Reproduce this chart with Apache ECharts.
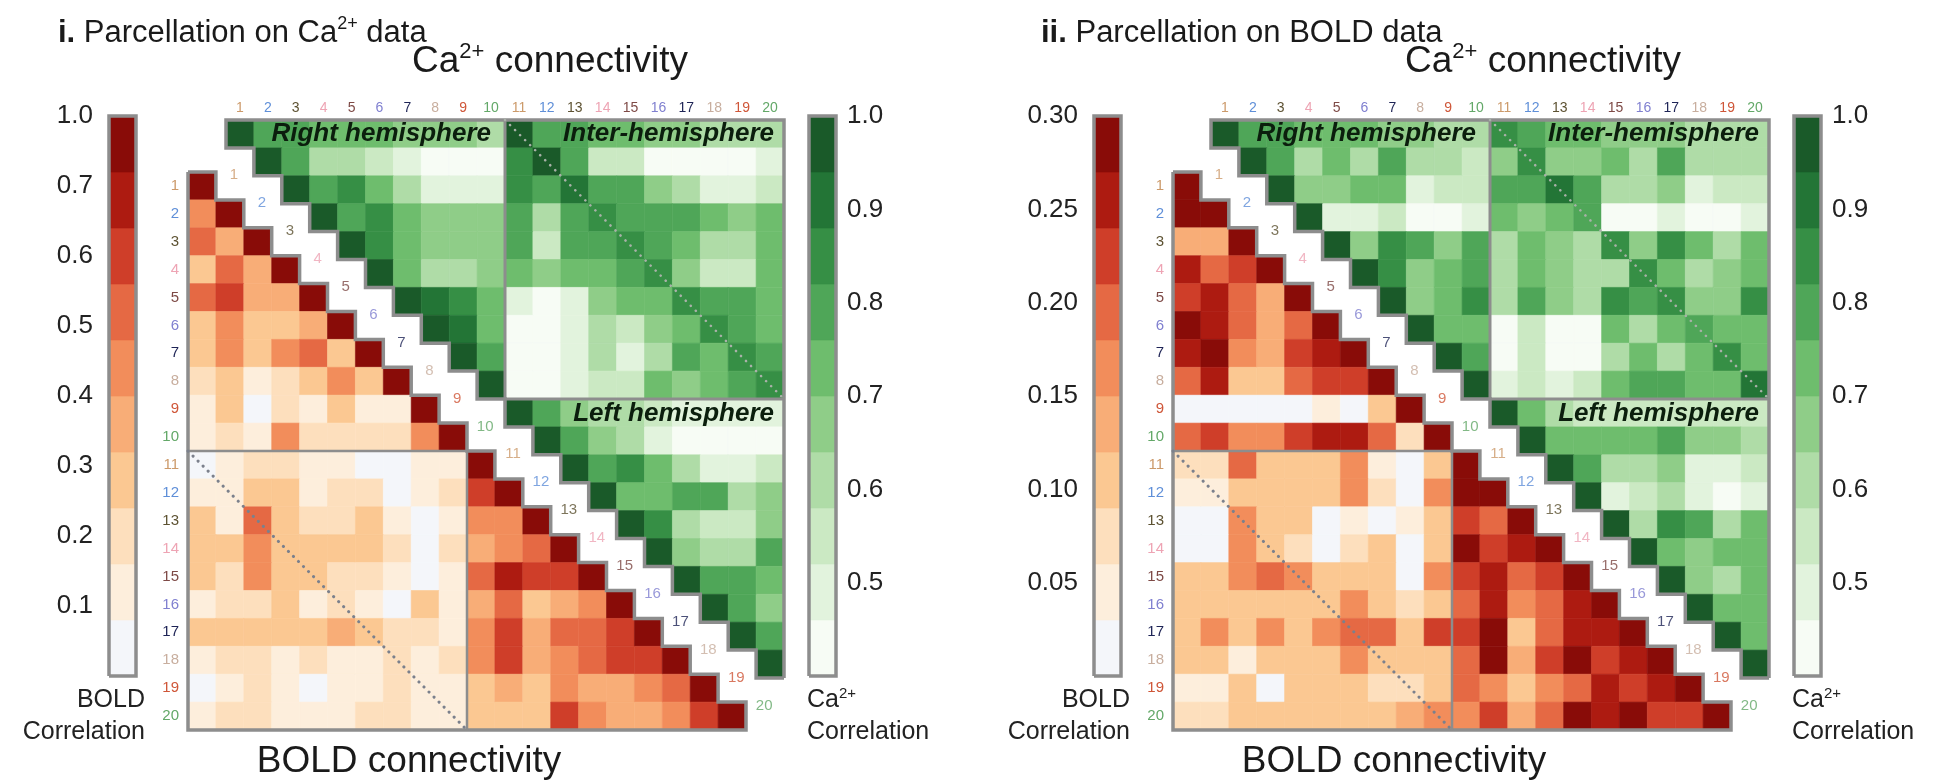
<!DOCTYPE html>
<html>
<head>
<meta charset="utf-8">
<script src="https://cdn.jsdelivr.net/npm/echarts@6/dist/echarts.min.js"></script>
<style>
html, body { margin: 0; padding: 0; background: #ffffff; }
#chart { width: 1939px; height: 783px; }
</style>
</head>
<body>
<div id="chart"></div>
<script>
// ---------- region labels ----------
const regionLabels = ['1','2','3','4','5','6','7','8','9','10','11','12','13','14','15','16','17','18','19','20'];
const regionColors = ['#cc9a6a','#5f8fd8','#5d5232','#eea4b4','#7e4a46','#8080d0','#1e2456','#c8ae9e','#cf5638','#63a868'];

// ---------- colour steps ----------
const greenPalette = ['#f7fcf5','#e2f3dd','#cbe9c3','#afdca7','#8fcd88','#6ebd6d','#4fa658','#368f45','#237536','#1a5a29'];
const redPalette   = ['#f4f6fa','#fdeedc','#fddfbd','#fbc892','#f8ad77','#f28d5b','#e56944','#cf3e29','#ad1b11','#890c08'];
const greenEdges   = [0.40, 0.46, 0.52, 0.58, 0.64, 0.70, 0.76, 0.82, 0.88, 0.94, 1.00];
const boldEdgesI   = [0.00, 0.08, 0.16, 0.24, 0.32, 0.40, 0.48, 0.56, 0.64, 0.76, 1.00];
const boldEdgesII  = [0.00, 0.03, 0.06, 0.09, 0.12, 0.15, 0.18, 0.21, 0.24, 0.27, 0.30];

// ---------- colorbar tick labels ----------
const boldTickLabelsI  = ['', '0.1', '0.2', '0.3', '0.4', '0.5', '0.6', '0.7', '1.0'];
const boldTickLabelsII = ['', '0.05', '0.10', '0.15', '0.20', '0.25', '0.30'];
const caTickLabels     = ['', '0.5', '0.6', '0.7', '0.8', '0.9', '1.0'];

// ---------- Ca2+ correlation, upper triangle (row r holds columns r..20) ----------
const caGreenI = [
  [1.00,.79,.79,.73,.73,.73,.67,.67,.67,.61,.97,.79,.79,.73,.73,.67,.67,.61,.61,.61],
  [1.00,.79,.61,.61,.55,.49,.43,.43,.43,.85,.97,.79,.55,.55,.43,.43,.43,.43,.49],
  [1.00,.79,.85,.73,.61,.49,.49,.49,.85,.79,.91,.79,.79,.67,.61,.49,.49,.55],
  [1.00,.79,.85,.73,.67,.67,.67,.79,.61,.79,.85,.79,.79,.79,.73,.67,.73],
  [1.00,.85,.73,.67,.67,.67,.79,.55,.79,.79,.85,.79,.73,.61,.61,.73],
  [1.00,.73,.61,.61,.67,.73,.67,.73,.73,.79,.85,.67,.55,.55,.73],
  [1.00,.91,.85,.73,.49,.43,.49,.67,.73,.73,.85,.79,.79,.73],
  [1.00,.91,.73,.43,.43,.49,.61,.55,.67,.73,.85,.79,.73],
  [1.00,.79,.43,.43,.49,.61,.49,.61,.79,.73,.85,.79],
  [1.00,.43,.43,.49,.55,.55,.73,.67,.73,.79,.85],
  [1.00,.79,.67,.61,.61,.55,.49,.49,.49,.49],
  [1.00,.79,.67,.61,.49,.43,.43,.43,.43],
  [1.00,.79,.85,.73,.61,.49,.49,.55],
  [1.00,.73,.73,.79,.79,.61,.67],
  [1.00,.85,.61,.55,.55,.67],
  [1.00,.67,.61,.61,.79],
  [1.00,.79,.79,.73],
  [1.00,.79,.67],
  [1.00,.79],
  [1.00]
];
const caGreenII = [
  [1.00,.79,.79,.73,.73,.73,.67,.67,.61,.61,.85,.79,.73,.73,.67,.67,.67,.61,.61,.61],
  [1.00,.79,.61,.73,.61,.79,.61,.61,.55,.67,.85,.67,.67,.73,.61,.79,.61,.61,.61],
  [1.00,.67,.67,.73,.73,.49,.55,.55,.79,.79,.91,.79,.61,.61,.67,.49,.55,.55],
  [1.00,.49,.49,.55,.43,.43,.49,.73,.67,.73,.79,.43,.43,.49,.43,.43,.49],
  [1.00,.67,.85,.79,.67,.79,.61,.73,.67,.61,.85,.67,.85,.73,.61,.73],
  [1.00,.85,.67,.73,.79,.61,.73,.67,.61,.61,.85,.73,.61,.67,.73],
  [1.00,.67,.73,.85,.61,.79,.67,.61,.85,.79,.85,.67,.67,.85],
  [1.00,.73,.73,.43,.55,.43,.43,.73,.61,.73,.79,.73,.73],
  [1.00,.79,.43,.55,.43,.43,.61,.73,.61,.73,.85,.73],
  [1.00,.49,.55,.49,.55,.73,.79,.79,.73,.73,.91],
  [1.00,.73,.61,.55,.55,.55,.55,.55,.55,.55],
  [1.00,.73,.73,.73,.73,.79,.67,.67,.61],
  [1.00,.79,.61,.61,.67,.49,.49,.55],
  [1.00,.49,.55,.61,.49,.43,.49],
  [1.00,.61,.85,.79,.61,.73],
  [1.00,.73,.67,.73,.73],
  [1.00,.67,.61,.73],
  [1.00,.73,.73],
  [1.00,.73],
  [1.00]
];

// ---------- BOLD correlation, lower triangle (row r holds columns 1..r) ----------
const boldRedI = [
  [1.00],
  [.44,1.00],
  [.52,.36,1.00],
  [.28,.52,.36,1.00],
  [.52,.60,.36,.36,1.00],
  [.28,.44,.28,.28,.36,1.00],
  [.28,.44,.28,.44,.52,.28,1.00],
  [.20,.28,.12,.20,.28,.44,.28,1.00],
  [.12,.28,.04,.20,.12,.28,.12,.12,1.00],
  [.12,.20,.12,.44,.20,.20,.20,.20,.44,1.00],
  [.04,.12,.20,.20,.12,.12,.04,.04,.12,.12,1.00],
  [.12,.12,.28,.28,.12,.20,.20,.04,.12,.20,.60,1.00],
  [.28,.12,.52,.28,.20,.20,.28,.12,.04,.12,.44,.44,1.00],
  [.28,.28,.44,.28,.28,.28,.28,.20,.04,.20,.36,.44,.52,1.00],
  [.28,.20,.44,.28,.28,.20,.20,.12,.04,.12,.52,.70,.60,.60,1.00],
  [.12,.20,.20,.28,.12,.20,.12,.04,.28,.12,.36,.52,.28,.36,.44,1.00],
  [.28,.28,.28,.28,.28,.36,.28,.20,.20,.12,.44,.60,.36,.52,.52,.60,1.00],
  [.12,.20,.20,.12,.20,.12,.12,.20,.12,.20,.44,.60,.36,.44,.52,.60,.60,1.00],
  [.04,.12,.20,.12,.04,.12,.12,.20,.12,.12,.28,.36,.28,.44,.36,.36,.44,.52,1.00],
  [.12,.20,.20,.12,.12,.12,.20,.20,.12,.12,.28,.28,.28,.60,.44,.36,.36,.44,.60,1.00]
];
const boldRedII = [
  [1.00],
  [.28,1.00],
  [.13,.13,1.00],
  [.25,.19,.22,1.00],
  [.22,.25,.19,.13,1.00],
  [.28,.25,.19,.13,.19,1.00],
  [.25,.28,.16,.13,.22,.25,1.00],
  [.19,.25,.10,.10,.19,.22,.22,1.00],
  [.01,.01,.01,.01,.01,.04,.01,.10,1.00],
  [.19,.22,.16,.16,.22,.25,.25,.19,.07,1.00],
  [.07,.07,.19,.10,.10,.10,.16,.04,.01,.10,1.00],
  [.04,.04,.10,.10,.10,.10,.16,.07,.01,.16,.28,1.00],
  [.01,.01,.16,.10,.10,.01,.04,.01,.04,.10,.22,.19,1.00],
  [.01,.01,.16,.10,.07,.01,.07,.10,.01,.10,.28,.22,.25,1.00],
  [.10,.10,.16,.19,.16,.10,.10,.10,.01,.16,.22,.25,.19,.22,1.00],
  [.10,.10,.10,.10,.10,.10,.16,.10,.07,.10,.19,.25,.16,.19,.25,1.00],
  [.10,.16,.10,.16,.10,.16,.19,.19,.10,.22,.22,.28,.10,.19,.25,.25,1.00],
  [.10,.10,.04,.10,.10,.10,.16,.10,.10,.10,.19,.28,.13,.22,.28,.22,.25,1.00],
  [.04,.04,.10,.01,.10,.10,.10,.07,.07,.10,.19,.16,.10,.16,.19,.25,.22,.25,1.00],
  [.07,.07,.10,.10,.10,.10,.10,.10,.13,.16,.16,.22,.13,.19,.28,.25,.28,.22,.22,1.00]
];

// ---------- drawing ----------
const FONT = "'Liberation Sans', Arial, Helvetica, sans-serif";
const GRAY = '#8d8d8d';
const N = 20;

// position on the panel-i BOLD colorbar (0.0-0.7 linear, last step 0.7-1.0)
function boldPosI(v) { return v <= 0.7 ? v * 10 : 7 + (v - 0.7) / 0.3; }
function identity(v) { return v; }

const panels = [
  {
    dx: 0,
    green: caGreenI, red: boldRedI, boldEdges: boldEdgesI, boldPos: boldPosI,
    boldAxis: { min: 0, max: 8, interval: 1, labels: boldTickLabelsI },
    title: '{b|i.}{n| Parcellation on Ca}{s|2+}{n| data}', titleX: 58,
    headerX: 550, footerX: 409
  },
  {
    dx: 985,
    green: caGreenII, red: boldRedII, boldEdges: boldEdgesII, boldPos: identity,
    boldAxis: { min: 0, max: 0.30, interval: 0.05, labels: boldTickLabelsII },
    title: '{b|ii.}{n| Parcellation on BOLD data}', titleX: 1041,
    headerX: 1543, footerX: 1394
  }
];

const grids = [], xAxes = [], yAxes = [], series = [], visualMaps = [], graphics = [];

function piecesFrom(edges, palette) {
  return palette.map((color, i) => {
    const p = { color: color };
    if (i > 0) p.gte = edges[i];
    if (i < palette.length - 1) p.lt = edges[i + 1];
    return p;
  });
}

function renderCell(params, api) {
  const c = api.value(0), r = api.value(1);
  const a = api.coord([c, r]);
  const b = api.coord([c + 1, r + 1]);
  const color = api.visual('color');
  return {
    type: 'rect',
    shape: { x: a[0], y: a[1], width: b[0] - a[0], height: b[1] - a[1] },
    style: { fill: color, stroke: color, lineWidth: 0.6 }
  };
}

function barRenderer(palette) {
  return function (params, api) {
    const lo = api.value(0), hi = api.value(1), k = api.value(2);
    const a = api.coord([0, hi]);
    const b = api.coord([1, lo]);
    return {
      type: 'rect',
      shape: { x: a[0], y: a[1], width: b[0] - a[0], height: b[1] - a[1] },
      style: { fill: palette[k], stroke: palette[k], lineWidth: 0.6 }
    };
  };
}

function addLine(xi, yi, pts, lineStyle, z) {
  series.push({
    type: 'line', xAxisIndex: xi, yAxisIndex: yi, data: pts,
    symbol: 'none', clip: false, silent: true, z: z || 5,
    lineStyle: lineStyle
  });
}

function hiddenValueAxis(gridIndex, min, max, inverse) {
  return { gridIndex: gridIndex, type: 'value', min: min, max: max, inverse: !!inverse, show: false };
}

function addText(x, y, text, rich, align) {
  graphics.push({
    type: 'text', x: x, y: y, z: 100,
    style: {
      text: text, rich: rich,
      align: align, textAlign: align,
      verticalAlign: 'middle', textVerticalAlign: 'middle'
    }
  });
}

function addPanel(p) {
  const gi = grids.length;
  grids.push({ left: p.dx + 226, top: 120, width: 558, height: 558 });   // Ca2+ matrix
  grids.push({ left: p.dx + 188, top: 172, width: 558, height: 558 });   // BOLD matrix
  grids.push({ left: p.dx + 109, top: 116, width: 27, height: 560 });    // BOLD colorbar
  grids.push({ left: p.dx + 809, top: 116, width: 27, height: 560 });    // Ca2+ colorbar

  // --- Ca2+ matrix axes ---
  const gx = xAxes.length; xAxes.push(hiddenValueAxis(gi, 0, N, false));
  xAxes.push({
    gridIndex: gi, type: 'category', data: regionLabels, position: 'top',
    axisLine: { show: false }, axisTick: { show: false }, splitLine: { show: false },
    axisLabel: { interval: 0, margin: 5, fontSize: 14, fontFamily: FONT,
      color: (v, i) => regionColors[i % 10] }
  });
  const gy = yAxes.length; yAxes.push(hiddenValueAxis(gi, 0, N, true));

  // --- BOLD matrix axes ---
  const rx = xAxes.length; xAxes.push(hiddenValueAxis(gi + 1, 0, N, false));
  const ry = yAxes.length; yAxes.push(hiddenValueAxis(gi + 1, 0, N, true));
  yAxes.push({
    gridIndex: gi + 1, type: 'category', data: regionLabels, inverse: true, position: 'left',
    axisLine: { show: false }, axisTick: { show: false }, splitLine: { show: false },
    axisLabel: { interval: 0, margin: 9, fontSize: 15, fontFamily: FONT,
      color: (v, i) => regionColors[i % 10] }
  });

  // --- BOLD colorbar axes ---
  const bx = xAxes.length; xAxes.push(hiddenValueAxis(gi + 2, 0, 1, false));
  const by = yAxes.length;
  yAxes.push({
    gridIndex: gi + 2, type: 'value', position: 'left',
    min: p.boldAxis.min, max: p.boldAxis.max, interval: p.boldAxis.interval,
    axisLine: { show: false }, axisTick: { show: false }, splitLine: { show: false },
    axisLabel: { margin: 16, fontSize: 26, fontFamily: FONT, color: '#222',
      formatter: v => p.boldAxis.labels[Math.round((v - p.boldAxis.min) / p.boldAxis.interval)] || '' }
  });

  // --- Ca2+ colorbar axes ---
  const cx = xAxes.length; xAxes.push(hiddenValueAxis(gi + 3, 0, 1, false));
  const cy = yAxes.length;
  yAxes.push({
    gridIndex: gi + 3, type: 'value', position: 'right',
    min: 0.4, max: 1.0, interval: 0.1,
    axisLine: { show: false }, axisTick: { show: false }, splitLine: { show: false },
    axisLabel: { margin: 11, fontSize: 26, fontFamily: FONT, color: '#222',
      formatter: v => caTickLabels[Math.round((v - 0.4) / 0.1)] || '' }
  });

  // --- cells ---
  const greenData = [];
  p.green.forEach((row, r) => row.forEach((v, j) => greenData.push([r + j, r, v])));
  const redData = [];
  p.red.forEach((row, r) => row.forEach((v, c) => redData.push([c, r, v])));

  visualMaps.push({ type: 'piecewise', show: false, seriesIndex: series.length, dimension: 2,
    pieces: piecesFrom(greenEdges, greenPalette) });
  series.push({ type: 'custom', xAxisIndex: gx, yAxisIndex: gy, data: greenData,
    encode: { x: 0, y: 1 }, renderItem: renderCell, silent: true, z: 2 });

  visualMaps.push({ type: 'piecewise', show: false, seriesIndex: series.length, dimension: 2,
    pieces: piecesFrom(p.boldEdges, redPalette) });
  series.push({ type: 'custom', xAxisIndex: rx, yAxisIndex: ry, data: redData,
    encode: { x: 0, y: 1 }, renderItem: renderCell, silent: true, z: 2 });

  // --- frames ---
  const frame = { color: GRAY, width: 3.5, join: 'miter' };
  const greenOutline = [[N, N]];
  for (let k = N - 1; k >= 0; k--) { greenOutline.push([k, k + 1]); greenOutline.push([k, k]); }
  greenOutline.push([N, 0]); greenOutline.push([N, N]);
  addLine(gx, gy, greenOutline, frame);
  addLine(gx, gy, [[10, 0], [10, 10], [N, 10]], { color: GRAY, width: 3 });

  const redOutline = [[0, 0]];
  for (let k = 0; k < N; k++) { redOutline.push([k + 1, k]); redOutline.push([k + 1, k + 1]); }
  redOutline.push([0, N]); redOutline.push([0, 0]);
  addLine(rx, ry, redOutline, frame);
  addLine(rx, ry, [[0, 10], [10, 10], [10, N]], { color: GRAY, width: 2.5 });

  // dotted diagonals of the inter-hemisphere blocks
  addLine(gx, gy, [[10, 0], [N, 10]], { color: '#a9b1a9', width: 2.6, type: [0.1, 7], cap: 'round' }, 6);
  addLine(rx, ry, [[0, 10], [10, N]], { color: '#7b808c', width: 3, type: [0.1, 7], cap: 'round' }, 6);

  // region numbers running down the gap between the two triangles
  series.push({
    type: 'scatter', xAxisIndex: rx, yAxisIndex: ry, symbolSize: 1, clip: false, silent: true, z: 7,
    itemStyle: { color: 'rgba(0,0,0,0)' },
    data: regionLabels.map((t, i) => ({
      value: [i + 1.65, i + 0.12],
      label: { show: true, position: 'inside', formatter: t, fontSize: 15, fontFamily: FONT,
        color: regionColors[i % 10] }
    }))
  });

  // --- colorbars ---
  const boldBins = redPalette.map((c, k) => [p.boldPos(p.boldEdges[k]), p.boldPos(p.boldEdges[k + 1]), k]);
  series.push({ type: 'custom', xAxisIndex: bx, yAxisIndex: by, data: boldBins,
    encode: { y: [0, 1] }, renderItem: barRenderer(redPalette), silent: true, z: 2 });
  addLine(bx, by, [[0, p.boldAxis.min], [1, p.boldAxis.min], [1, p.boldAxis.max], [0, p.boldAxis.max], [0, p.boldAxis.min]], frame);

  const caBins = greenPalette.map((c, k) => [greenEdges[k], greenEdges[k + 1], k]);
  series.push({ type: 'custom', xAxisIndex: cx, yAxisIndex: cy, data: caBins,
    encode: { y: [0, 1] }, renderItem: barRenderer(greenPalette), silent: true, z: 2 });
  addLine(cx, cy, [[0, 0.4], [1, 0.4], [1, 1.0], [0, 1.0], [0, 0.4]], frame);

  // --- text ---
  const big = { fontSize: 37, fontFamily: FONT, fill: '#1a1a1a', lineHeight: 42 };
  const bigSup = { fontSize: 22, fontFamily: FONT, fill: '#1a1a1a', verticalAlign: 'top', lineHeight: 22 };
  addText(p.titleX, 33, p.title, {
    b: { fontSize: 31, fontWeight: 'bold', fontFamily: FONT, fill: '#1a1a1a', lineHeight: 36 },
    n: { fontSize: 31, fontFamily: FONT, fill: '#1a1a1a', lineHeight: 36 },
    s: { fontSize: 18, fontFamily: FONT, fill: '#1a1a1a', verticalAlign: 'top', lineHeight: 18 }
  }, 'left');
  addText(p.headerX, 62, '{n|Ca}{s|2+}{n| connectivity}', { n: big, s: bigSup }, 'center');
  addText(p.footerX, 762, '{n|BOLD connectivity}', { n: big }, 'center');

  const hemi = { fontSize: 26, fontWeight: 'bold', fontStyle: 'italic', fontFamily: FONT, fill: '#0b1e0d' };
  addText(p.dx + 491, 134, '{h|Right hemisphere}', { h: hemi }, 'right');
  addText(p.dx + 774, 134, '{h|Inter-hemisphere}', { h: hemi }, 'right');
  addText(p.dx + 774, 414, '{h|Left hemisphere}', { h: hemi }, 'right');

  const cap = { fontSize: 25, fontFamily: FONT, fill: '#222', lineHeight: 28 };
  const capSup = { fontSize: 15, fontFamily: FONT, fill: '#222', verticalAlign: 'top', lineHeight: 15 };
  addText(p.dx + 145, 700, '{n|BOLD}', { n: cap }, 'right');
  addText(p.dx + 145, 732, '{n|Correlation}', { n: cap }, 'right');
  addText(p.dx + 807, 700, '{n|Ca}{s|2+}', { n: cap, s: capSup }, 'left');
  addText(p.dx + 807, 732, '{n|Correlation}', { n: cap }, 'left');
}

panels.forEach(addPanel);

const chart = echarts.init(document.getElementById('chart'), null, { renderer: 'canvas' });
chart.setOption({
  backgroundColor: '#ffffff',
  animation: false,
  grid: grids,
  xAxis: xAxes,
  yAxis: yAxes,
  visualMap: visualMaps,
  series: series,
  graphic: { elements: graphics }
});
</script>
</body>
</html>
